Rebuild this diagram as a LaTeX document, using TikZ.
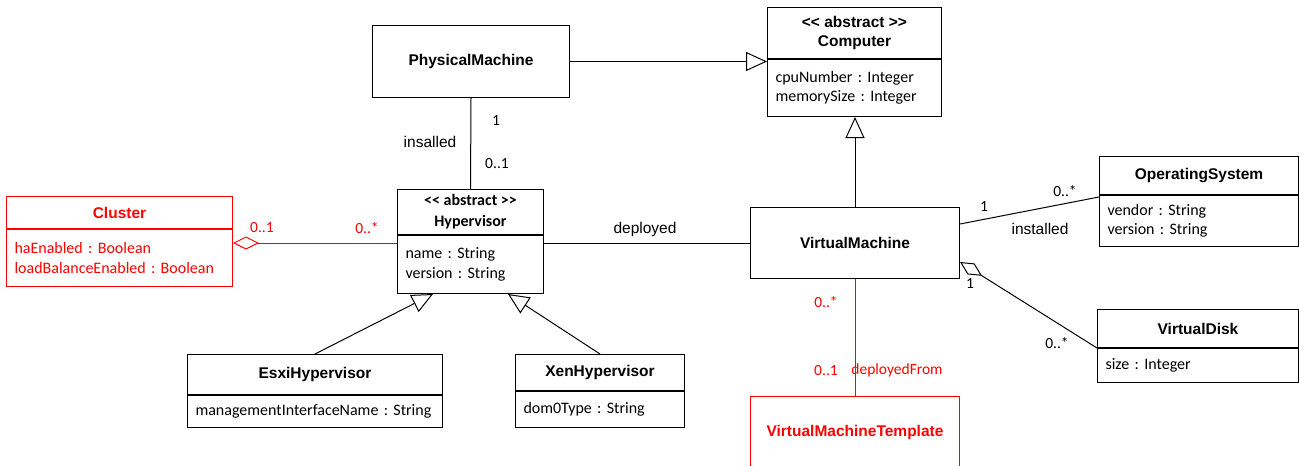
\documentclass[tikz,border=0pt]{standalone}
\usepackage{fontspec}
\usepackage{tikz}
\usetikzlibrary{arrows.meta}
\newfontfamily\arial{Liberation Sans}
\newfontfamily\calibri{Carlito}
\definecolor{umlred}{RGB}{255,0,0}
\frenchspacing

\begin{document}
\begin{tikzpicture}[x=1pt, y=-1pt, line width=1pt,
    head/.style={draw, anchor=north west, align=center, inner sep=2pt, font=\arial\fontsize{15.5}{19}\selectfont\bfseries},
    attr/.style={draw, anchor=north, align=left, inner xsep=8pt, inner ysep=2pt, font=\calibri\fontsize{16}{19.5}\selectfont},
    mult/.style={inner sep=0pt, font=\calibri\fontsize{15.5}{18}\selectfont},
    role/.style={inner sep=0pt, font=\arial\fontsize{15.5}{18}\selectfont},
    inherit/.style={-{Triangle[open, length=21pt, width=19pt]}},
    aggr/.style={{Diamond[open, length=26pt, width=13pt]}-}]
        \useasboundingbox (0,0) rectangle (1299,466);

        % classes
        \node[head, minimum width=197pt, minimum height=72pt] (pm) at (372,25) {PhysicalMachine};
        \node[head, minimum width=174pt, minimum height=51pt] (computer) at (767,7) {<< abstract >>\\Computer};
        \node[attr, text width=158pt, minimum height=57pt] (computer-attr) at (computer.south) {cpuNumber : Integer\\memorySize : Integer};

        \node[head, umlred, minimum width=226pt, minimum height=32pt] (cluster) at (6,196) {Cluster};
        \node[attr, umlred, text width=210pt, minimum height=57pt] (cluster-attr) at (cluster.south) {haEnabled : Boolean\\loadBalanceEnabled : Boolean};

        \node[head, font=\calibri\fontsize{16}{21}\selectfont\bfseries, minimum width=146pt, minimum height=45pt] (hyper) at (397,189) {<< abstract >>\\Hypervisor};
        \node[attr, text width=130pt, minimum height=58pt] (hyper-attr) at (hyper.south) {name : String\\version : String};

        \node[head, minimum width=209pt, minimum height=71pt] (vm) at (750,207) {VirtualMachine};

        \node[head, minimum width=199pt, minimum height=38pt] (os) at (1099,156) {OperatingSystem};
        \node[attr, text width=183pt, minimum height=51pt] (os-attr) at (os.south) {vendor : String\\version : String};

        \node[head, minimum width=201pt, minimum height=38pt] (disk) at (1097,309) {VirtualDisk};
        \node[attr, text width=185pt, minimum height=34pt] (disk-attr) at (disk.south) {size : Integer};

        \node[head, minimum width=255pt, minimum height=40pt] (esxi) at (187,354) {EsxiHypervisor};
        \node[attr, text width=239pt, minimum height=32pt] (esxi-attr) at (esxi.south) {managementInterfaceName : String};

        \node[head, minimum width=169pt, minimum height=36pt] (xen) at (515,354) {XenHypervisor};
        \node[attr, text width=153pt, minimum height=36pt] (xen-attr) at (xen.south) {dom0Type : String};

        \node[head, umlred, minimum width=209pt, minimum height=72pt] (template) at (750,396) {VirtualMachineTemplate};

        % connectors
        \draw[inherit] (pm.east) -- (pm.east -| computer.west);
        \draw[inherit] (vm.north) -- (vm.north |- computer-attr.south);
        \draw (pm.south) -- (hyper.north);
        \draw[aggr, umlred] (cluster-attr.east |- vm.west) -- (hyper-attr.west |- vm.west);
        \draw (hyper-attr.east |- vm.west) -- (vm.west);
        \draw ([yshift=-17pt]vm.north east) -- ([yshift=-2pt]os-attr.north west);
        \draw[aggr] ([yshift=17pt]vm.south east) -- (disk-attr.north west);
        \draw[umlred] (vm.south) -- (template.north);
        \draw[inherit] (esxi.north) -- ([xshift=36pt]hyper-attr.south west);
        \draw[inherit] (xen.north) -- ([xshift=-36pt]hyper-attr.south east);

        % labels
        \node[mult] (pm-one) at (496,121) {1};
        \node[role] (insalled) at (430,142) {insalled};
        \node[mult] (hyper-zeroone) at (497,164) {0..1};
        \node[mult, umlred] (cluster-zeroone) at (262,228) {0..1};
        \node[mult, umlred] (hyper-many) at (367,228) {0..*};
        \node[role] (deployed) at (645,229) {deployed};
        \node[mult] (vm-os-one) at (984,207) {1};
        \node[mult] (os-many) at (1065,191) {0..*};
        \node[role] (installed) at (1040,229) {installed};
        \node[mult] (vm-disk-one) at (970,284) {1};
        \node[mult] (disk-many) at (1057,343) {0..*};
        \node[mult, umlred] (vm-many) at (826,302) {0..*};
        \node[mult, umlred] (template-zeroone) at (826,371) {0..1};
        \node[mult, umlred] (deployedfrom) at (897,370) {deployedFrom};
    \end{tikzpicture}
\end{document}
